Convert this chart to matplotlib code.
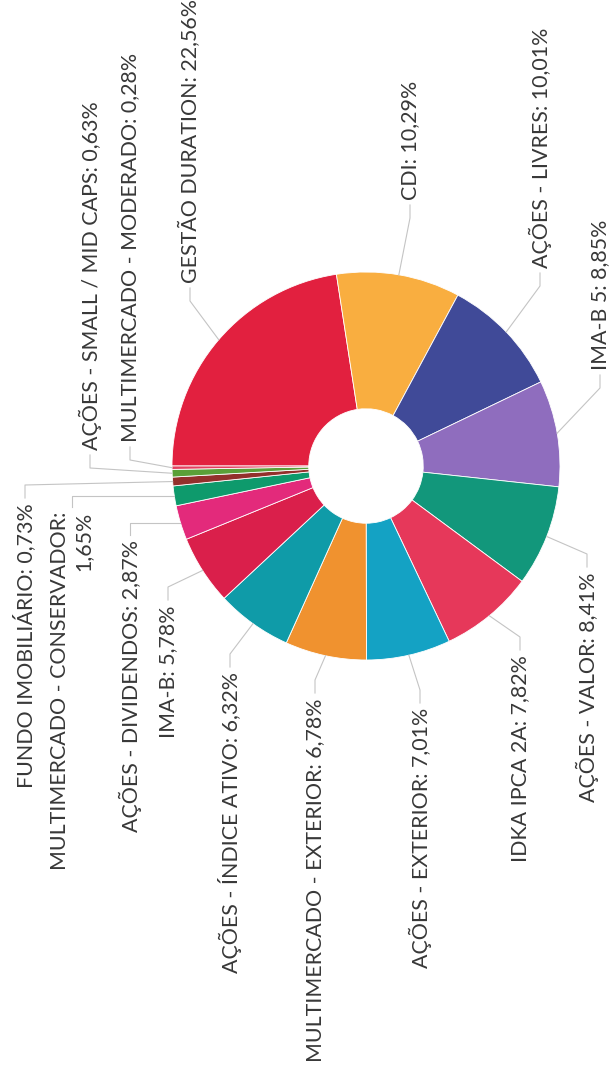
import numpy as np
import matplotlib.pyplot as plt

# dados do gráfico (ordem horária a partir da esquerda)
categories = [
    "GESTÃO DURATION", "CDI", "AÇÕES - LIVRES", "IMA-B 5", "AÇÕES - VALOR",
    "IDKA IPCA 2A", "AÇÕES - EXTERIOR", "MULTIMERCADO - EXTERIOR",
    "AÇÕES - ÍNDICE ATIVO", "IMA-B", "AÇÕES - DIVIDENDOS",
    "MULTIMERCADO - CONSERVADOR", "FUNDO IMOBILIÁRIO",
    "AÇÕES - SMALL / MID CAPS", "MULTIMERCADO - MODERADO",
]
values = [22.56, 10.29, 10.01, 8.85, 8.41, 7.82, 7.01, 6.78,
          6.32, 5.78, 2.87, 1.65, 0.73, 0.63, 0.28]
colors = ["#E2203F", "#F9AE40", "#404A98", "#8F6DBE", "#12977B",
          "#E6385A", "#14A2C4", "#F0922F", "#0F9BA8", "#DA1F4B",
          "#E32A7B", "#0E9A6C", "#93302C", "#5AA038", "#E34060"]

# posição dos rótulos (pixels da imagem) e lado
label_x = [190, 410, 540, 600, 587, 520, 420, 315, 230, 168, 130, 72, 25, 90, 130]
label_y = [283, 200, 268, 370, 572, 655, 708, 698, 672, 605, 540, 512, 503, 450, 442]
label_side = ["top", "top", "top", "top", "bot", "bot", "bot", "bot",
              "bot", "bot", "bot", "bot", "bot", "top", "top"]


def main():
    W, H = 611, 1086
    fig = plt.figure(figsize=(W / 100, H / 100), dpi=100)
    ax = fig.add_axes([0, 0, 1, 1])

    cx, cy = 366, H - 466
    R = 194
    wedges, _ = ax.pie(values, colors=colors, startangle=180, counterclock=False,
                       radius=R, center=(cx, cy),
                       wedgeprops=dict(width=R * 0.705, edgecolor="white", linewidth=0.6))
    ax.set_xlim(0, W)
    ax.set_ylim(0, H)
    ax.set_aspect("equal")
    ax.axis("off")

    for w, name, v, lx, ly, side in zip(wedges, categories, values,
                                        label_x, label_y, label_side):
        mid = np.deg2rad((w.theta1 + w.theta2) / 2)
        ex = cx + R * np.cos(mid)
        ey = cy + R * np.sin(mid)
        ay = H - ly
        txt = f"{name}: {v:.2f}%".replace(".", ",")
        if name == "MULTIMERCADO - CONSERVADOR":
            txt = txt.replace(": ", ":\n")
        if side == "top":
            p0 = ay - 5
            pb = max(ay - 18, ey)
            ha = "left"
        else:
            p0 = ay + 5
            pb = min(ay + 18, ey)
            ha = "right"
        ax.plot([lx, lx, ex], [p0, pb, ey], color="#c4c4c4", lw=0.8)
        ax.text(lx, ay, txt, rotation=90, rotation_mode="anchor", ha=ha,
                va="center", multialignment="right", fontsize=15.4,
                family="Lato", color="#383838")

    fig.savefig("out.png", dpi=100)


if __name__ == "__main__":
    main()
